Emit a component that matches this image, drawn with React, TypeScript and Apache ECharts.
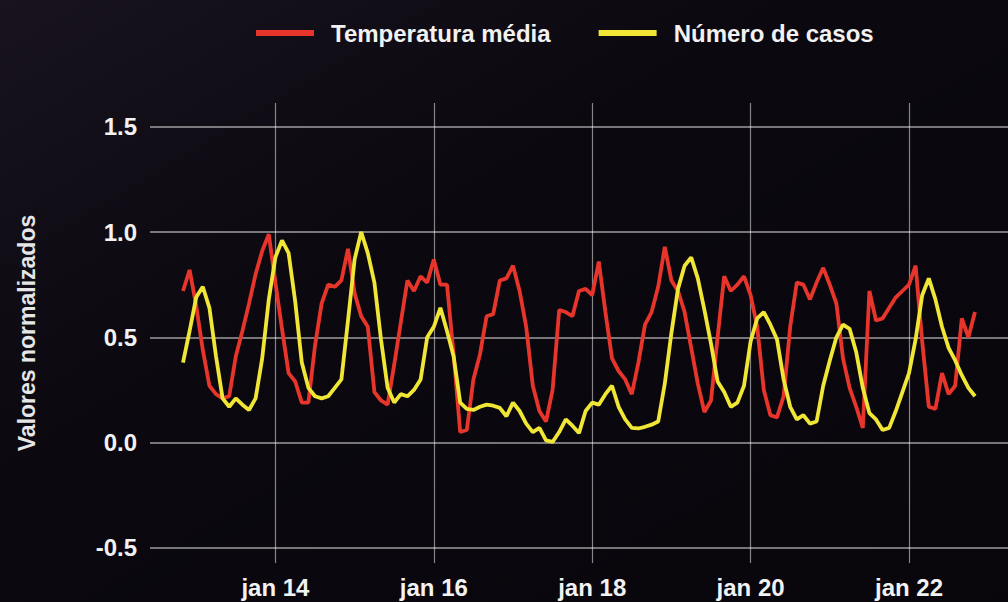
import React, { useEffect, useRef } from "react";
import * as echarts from "echarts";

// Axis months: Jun 2012 .. Apr 2023 (category axis)
const AXIS_START_YEAR = 2012;
const AXIS_START_MONTH = 6;
const AXIS_MONTH_COUNT = 131;
// data begins Nov 2012
const DATA_START_YEAR = 2012;
const DATA_START_MONTH = 11;

const seriesNames = ["Temperatura média", "Número de casos"];

const temperatura = [
  0.72, 0.82, 0.65, 0.44, 0.27, 0.23, 0.21, 0.22, 0.41, 0.53, 0.66, 0.80, 0.91, 0.99,
  0.76, 0.54, 0.33, 0.29, 0.19, 0.19, 0.46, 0.66, 0.75, 0.74, 0.77, 0.92,
  0.71, 0.60, 0.55, 0.24, 0.20, 0.18, 0.37, 0.57, 0.77, 0.72, 0.79, 0.76,
  0.87, 0.75, 0.75, 0.42, 0.05, 0.06, 0.30, 0.42, 0.60, 0.61, 0.77, 0.78,
  0.84, 0.72, 0.55, 0.27, 0.15, 0.10, 0.25, 0.63, 0.62, 0.60, 0.72, 0.73,
  0.70, 0.86, 0.62, 0.40, 0.34, 0.30, 0.23, 0.38, 0.56, 0.62, 0.74, 0.93,
  0.77, 0.72, 0.62, 0.45, 0.28, 0.145, 0.20, 0.50, 0.79, 0.72, 0.75, 0.79,
  0.70, 0.55, 0.25, 0.13, 0.12, 0.22, 0.55, 0.76, 0.75, 0.68, 0.76, 0.83,
  0.75, 0.66, 0.40, 0.26, 0.17, 0.07, 0.72, 0.58, 0.59, 0.64, 0.69, 0.72,
  0.75, 0.84, 0.48, 0.17, 0.16, 0.33, 0.23, 0.27, 0.59, 0.50, 0.62,
];

const casos = [
  0.38, 0.53, 0.69, 0.74, 0.64, 0.41, 0.21, 0.17, 0.21, 0.18, 0.155, 0.21, 0.40, 0.68,
  0.88, 0.96, 0.90, 0.67, 0.38, 0.26, 0.22, 0.21, 0.22, 0.26, 0.30, 0.58,
  0.87, 1.00, 0.90, 0.76, 0.49, 0.26, 0.19, 0.23, 0.22, 0.25, 0.30, 0.50,
  0.55, 0.64, 0.53, 0.41, 0.19, 0.16, 0.155, 0.17, 0.18, 0.175, 0.165, 0.125,
  0.19, 0.15, 0.09, 0.05, 0.07, 0.01, 0.003, 0.05, 0.11, 0.08, 0.045, 0.15,
  0.19, 0.18, 0.23, 0.27, 0.17, 0.11, 0.07, 0.067, 0.075, 0.085, 0.10, 0.28,
  0.52, 0.73, 0.84, 0.88, 0.78, 0.63, 0.47, 0.29, 0.24, 0.17, 0.19, 0.27,
  0.48, 0.59, 0.62, 0.56, 0.49, 0.30, 0.17, 0.11, 0.13, 0.09, 0.10, 0.27,
  0.39, 0.50, 0.56, 0.54, 0.43, 0.26, 0.14, 0.11, 0.06, 0.07, 0.15, 0.24,
  0.33, 0.49, 0.70, 0.78, 0.68, 0.55, 0.45, 0.39, 0.32, 0.26, 0.22,
];

const Y_MIN = -0.572;
const Y_MAX = 1.613;

const FONT = "'Liberation Sans', Arial, 'DejaVu Sans Condensed', sans-serif";
const TEXT_COLOR = "#f2f2f2";
const RED = "#e8352b";
const YELLOW = "#f0e636";

function buildCategories(): string[] {
  const out: string[] = [];
  let y = AXIS_START_YEAR;
  let m = AXIS_START_MONTH;
  for (let i = 0; i < AXIS_MONTH_COUNT; i++) {
    out.push(`${y}-${String(m).padStart(2, "0")}`);
    m++;
    if (m > 12) {
      m = 1;
      y++;
    }
  }
  return out;
}

function isEvenJanuary(val: string): boolean {
  const [ys, ms] = val.split("-");
  return ms === "01" && Number(ys) % 2 === 0;
}

export default function App() {
  const ref = useRef<HTMLDivElement>(null);

  useEffect(() => {
    document.body.style.margin = "0";
    if (!ref.current) return;
    const chart = echarts.init(ref.current, null, { renderer: "svg" });
    const categories = buildCategories();
    const startKey = `${DATA_START_YEAR}-${String(DATA_START_MONTH).padStart(2, "0")}`;
    const offset = categories.indexOf(startKey);
    const pad = (arr: number[]) =>
      categories.map((_, i) => {
        const j = i - offset;
        return j >= 0 && j < arr.length ? arr[j] : null;
      });

    const intervalFn = (index: number, value: string) => isEvenJanuary(value);

    chart.setOption({
      animation: false,
      backgroundColor: new echarts.graphic.LinearGradient(0, 0, 1, 1, [
        { offset: 0, color: "#18131d" },
        { offset: 0.4, color: "#0b0810" },
        { offset: 1, color: "#08060b" },
      ]),
      legend: {
        left: 256,
        top: 21,
        padding: 0,
        icon: "rect",
        itemWidth: 58,
        itemHeight: 6,
        itemGap: 48,
        textStyle: {
          color: TEXT_COLOR,
          fontFamily: FONT,
          fontWeight: "bold",
          fontSize: 24,
          padding: [0, 0, 0, 12],
        },
        data: seriesNames,
      },
      grid: {
        left: 150,
        right: 0,
        top: 103,
        bottom: 39,
        containLabel: false,
      },
      xAxis: {
        type: "category",
        data: categories,
        boundaryGap: false,
        axisLine: { show: false },
        axisTick: { show: false },
        axisLabel: {
          interval: intervalFn,
          color: TEXT_COLOR,
          fontFamily: FONT,
          fontWeight: "bold",
          fontSize: 24,
          margin: 12,
          formatter: (v: string) => `jan ${v.slice(2, 4)}`,
        },
        splitLine: {
          show: true,
          interval: intervalFn,
          lineStyle: { color: "rgba(255,255,255,0.5)", width: 1.2 },
        },
      },
      yAxis: {
        type: "value",
        min: Y_MIN,
        max: Y_MAX,
        splitNumber: 5,
        name: "Valores normalizados",
        nameLocation: "middle",
        nameRotate: 90,
        nameGap: 112,
        nameTextStyle: {
          color: "#e6e6e6",
          fontFamily: FONT,
          fontWeight: "bold",
          fontSize: 23,
        },
        axisLine: { show: false },
        axisTick: { show: false },
        axisLabel: {
          color: TEXT_COLOR,
          fontFamily: FONT,
          fontWeight: "bold",
          fontSize: 24,
          margin: 13,
          showMinLabel: false,
          showMaxLabel: false,
          formatter: (v: number) =>
            Math.abs(v * 2 - Math.round(v * 2)) < 1e-6 ? v.toFixed(1) : "",
        },
        splitLine: {
          show: true,
          showMinLine: false,
          showMaxLine: false,
          lineStyle: { color: "rgba(255,255,255,0.6)", width: 1.5 },
        },
      },
      series: [
        {
          name: seriesNames[0],
          type: "line",
          data: pad(temperatura),
          showSymbol: false,
          color: RED,
          lineStyle: { color: RED, width: 3.8 },
          z: 3,
        },
        {
          name: seriesNames[1],
          type: "line",
          data: pad(casos),
          showSymbol: false,
          color: YELLOW,
          lineStyle: { color: YELLOW, width: 3.8 },
          z: 4,
        },
      ],
    });
    return () => chart.dispose();
  }, []);

  return <div ref={ref} style={{ width: 1008, height: 602 }} />;
}
